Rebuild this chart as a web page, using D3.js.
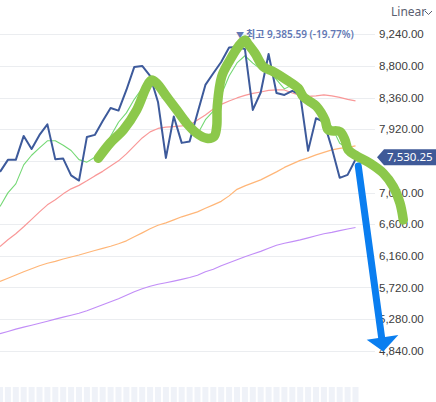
<!DOCTYPE html>
<html>
<head>
<meta charset="utf-8">
<script src="https://cdn.jsdelivr.net/npm/d3@7"></script>
<style>
  html, body { margin: 0; padding: 0; background: #fff; }
  svg { display: block; font-family: "Noto Sans", "Noto Sans CJK KR", sans-serif; }
</style>
</head>
<body>
<svg width="436" height="402"></svg>
<script>
// daily closes and moving averages
const closes = [7327, 7494, 7494, 7827, 7646, 7841, 7987, 7501, 7512, 7278, 7206, 7813, 7841, 8035, 8216, 8179, 8466, 8786, 8800, 8661, 8299, 7521, 8098, 7730, 7748, 8147, 8536, 8698, 8855, 9057, 9064, 9036, 8188, 8431, 8966, 8424, 8397, 8452, 8397, 7619, 8073, 8022, 7660, 7244, 7285, 7500];
const ma5 = [6845, 7035, 7160, 7424, 7558, 7660, 7759, 7760, 7697, 7624, 7497, 7462, 7530, 7635, 7822, 8017, 8147, 8336, 8489, 8578, 8602, 8413, 8276, 8062, 7879, 7849, 8052, 8172, 8397, 8659, 8842, 8942, 8840, 8755, 8737, 8609, 8481, 8534, 8527, 8258, 8188, 8113, 7954, 7724, 7657, 7542];
const ma20 = [6289, 6382, 6466, 6563, 6667, 6771, 6868, 6938, 7021, 7091, 7139, 7202, 7271, 7334, 7410, 7480, 7577, 7688, 7799, 7883, 7931, 7948, 7956, 7966, 7980, 8049, 8119, 8202, 8265, 8313, 8355, 8390, 8418, 8438, 8459, 8466, 8466, 8424, 8390, 8376, 8383, 8397, 8383, 8362, 8334, 8313];
const ma60 = [5803, 5847, 5892, 5938, 5979, 6021, 6056, 6083, 6115, 6143, 6171, 6202, 6234, 6264, 6292, 6327, 6368, 6424, 6479, 6535, 6584, 6618, 6660, 6702, 6736, 6771, 6820, 6868, 6917, 6993, 7084, 7132, 7174, 7216, 7271, 7327, 7389, 7438, 7487, 7521, 7563, 7598, 7633, 7653, 7667, 7688];
const ma120 = [5076, 5107, 5139, 5167, 5194, 5222, 5250, 5278, 5306, 5333, 5361, 5396, 5437, 5479, 5521, 5563, 5611, 5660, 5701, 5736, 5764, 5785, 5808, 5833, 5858, 5889, 5938, 5972, 6021, 6063, 6104, 6146, 6184, 6222, 6264, 6306, 6334, 6357, 6382, 6410, 6438, 6466, 6486, 6510, 6532, 6553];

const yTicks = [9240, 8800, 8360, 7920, 7480, 7040, 6600, 6160, 5720, 5280, 4840];
const lastPrice = 7530.25;
const peakHigh = 9385.59;
const peakIndex = 30;

// hand drawn marks on top of the chart, as [day index, price]
const greenScribble = [[12.44, 7516], [13.92, 7725], [15.61, 7910], [17.3, 8188], [18.57, 8512], [19.2, 8605], [19.84, 8559], [21.1, 8373], [22.37, 8188], [23.63, 8003], [24.9, 7864], [26.16, 7794], [27.09, 7817], [27.43, 7956], [27.5, 8234], [28.06, 8651], [29.11, 8883], [30.16, 9068], [31.01, 9161], [31.4, 9105], [32.28, 8976], [33.33, 8790], [34.59, 8720], [36.29, 8605], [37.76, 8489], [38.39, 8373], [40.09, 8234], [41.14, 8049], [41.56, 7910], [43.04, 7886], [43.67, 7771], [44.09, 7632], [45.15, 7548], [46.84, 7447], [48.52, 7308], [49.78, 7122], [50.63, 6891], [51.05, 6659]];
const arrowShaft = [[45.35, 7409], [48.32, 5014]];
const arrowHead = [[46.42, 4991], [50.42, 5060], [48.52, 4828]];

const width = 436;
const height = 402;
const plotRight = 375;

const svg = d3.select('svg');

const x = d3.scaleLinear().domain([0, 45]).range([0, 355.5]);
const y = d3.scaleLinear().domain([4840, 9240]).range([350.7, 34.3]);

// faint bars along the bottom
svg.append('g')
  .selectAll('rect')
  .data(closes)
  .enter()
  .append('rect')
  .attr('x', (d, i) => x(i) - 3)
  .attr('y', 387)
  .attr('width', 6)
  .attr('height', height - 387)
  .attr('fill', '#eff2f8');

// grid
svg.append('g')
  .selectAll('line')
  .data(yTicks)
  .enter()
  .append('line')
  .attr('x1', 0)
  .attr('x2', plotRight)
  .attr('y1', (d) => Math.round(y(d)) + 0.5)
  .attr('y2', (d) => Math.round(y(d)) + 0.5)
  .attr('stroke', '#ebedf0')
  .attr('stroke-width', 1);

// axis labels
const axis = d3.axisRight(y)
  .tickValues(yTicks.filter((t) => Math.abs(y(t) - y(lastPrice)) > 10))
  .tickFormat(d3.format(',.2f'))
  .tickSize(0)
  .tickPadding(0);

const axisG = svg.append('g')
  .attr('transform', `translate(${379},0)`)
  .call(axis);
axisG.select('.domain').remove();
axisG.selectAll('text')
  .attr('fill', '#3c3c3c')
  .style('font-size', '11.5px');

// lines
const line = d3.line()
  .x((d, i) => x(i))
  .y((d) => y(d));

const series = [
  { values: ma120, color: '#c28ef7', w: 1.2 },
  { values: ma60, color: '#ffb678', w: 1.2 },
  { values: ma20, color: '#f99898', w: 1.2 },
  { values: ma5, color: '#74d874', w: 1.1 },
  { values: closes, color: '#3d5a9b', w: 2 }
];

svg.append('g')
  .selectAll('path')
  .data(series)
  .enter()
  .append('path')
  .attr('d', (d) => line(d.values))
  .attr('fill', 'none')
  .attr('stroke', (d) => d.color)
  .attr('stroke-width', (d) => d.w)
  .attr('stroke-linejoin', 'round');

// peak label
const pct = (lastPrice / peakHigh - 1) * 100;
const peakLabel = svg.append('text')
  .attr('x', x(peakIndex) - 1)
  .attr('y', 38)
  .attr('fill', '#6278b4')
  .style('font-size', '10px')
  .style('font-weight', '600');
peakLabel.append('tspan')
  .style('font-size', '8px')
  .text('▼ ');
peakLabel.append('tspan')
  .text(`최고 ${d3.format(',.2f')(peakHigh)} (${pct.toFixed(2)}%)`);

// "Linear" switch
svg.append('text')
  .attr('x', 391)
  .attr('y', 16)
  .attr('fill', '#5a6070')
  .style('font-size', '12px')
  .text('Linear');
svg.append('path')
  .attr('d', 'M425,11 L428.5,14.5 L432,11')
  .attr('fill', 'none')
  .attr('stroke', '#5a6070')
  .attr('stroke-width', 1);

// hand drawn green scribble
const scribble = d3.line()
  .x((d) => x(d[0]))
  .y((d) => y(d[1]))
  .curve(d3.curveCatmullRom.alpha(0.5));

svg.append('path')
  .attr('d', scribble(greenScribble))
  .attr('fill', 'none')
  .attr('stroke', '#8cc84b')
  .attr('stroke-width', 9.5)
  .attr('stroke-linecap', 'round')
  .attr('stroke-linejoin', 'round');

// price badge
const by = y(lastPrice);
svg.append('path')
  .attr('d', `M377,${by} L384,${by - 8} L436,${by - 8} L436,${by + 8} L384,${by + 8} Z`)
  .attr('fill', '#3f5a98');
svg.append('text')
  .attr('x', 387)
  .attr('y', by + 4)
  .attr('fill', '#fff')
  .style('font-size', '11.5px')
  .text(d3.format(',.2f')(lastPrice));

// blue arrow
svg.append('path')
  .attr('d', d3.line().x((d) => x(d[0])).y((d) => y(d[1]))(arrowShaft))
  .attr('stroke', '#0a7ef0')
  .attr('stroke-width', 7)
  .attr('stroke-linecap', 'round');
svg.append('path')
  .attr('d', d3.line().x((d) => x(d[0])).y((d) => y(d[1]))(arrowHead) + 'Z')
  .attr('fill', '#0a7ef0');
</script>
</body>
</html>
